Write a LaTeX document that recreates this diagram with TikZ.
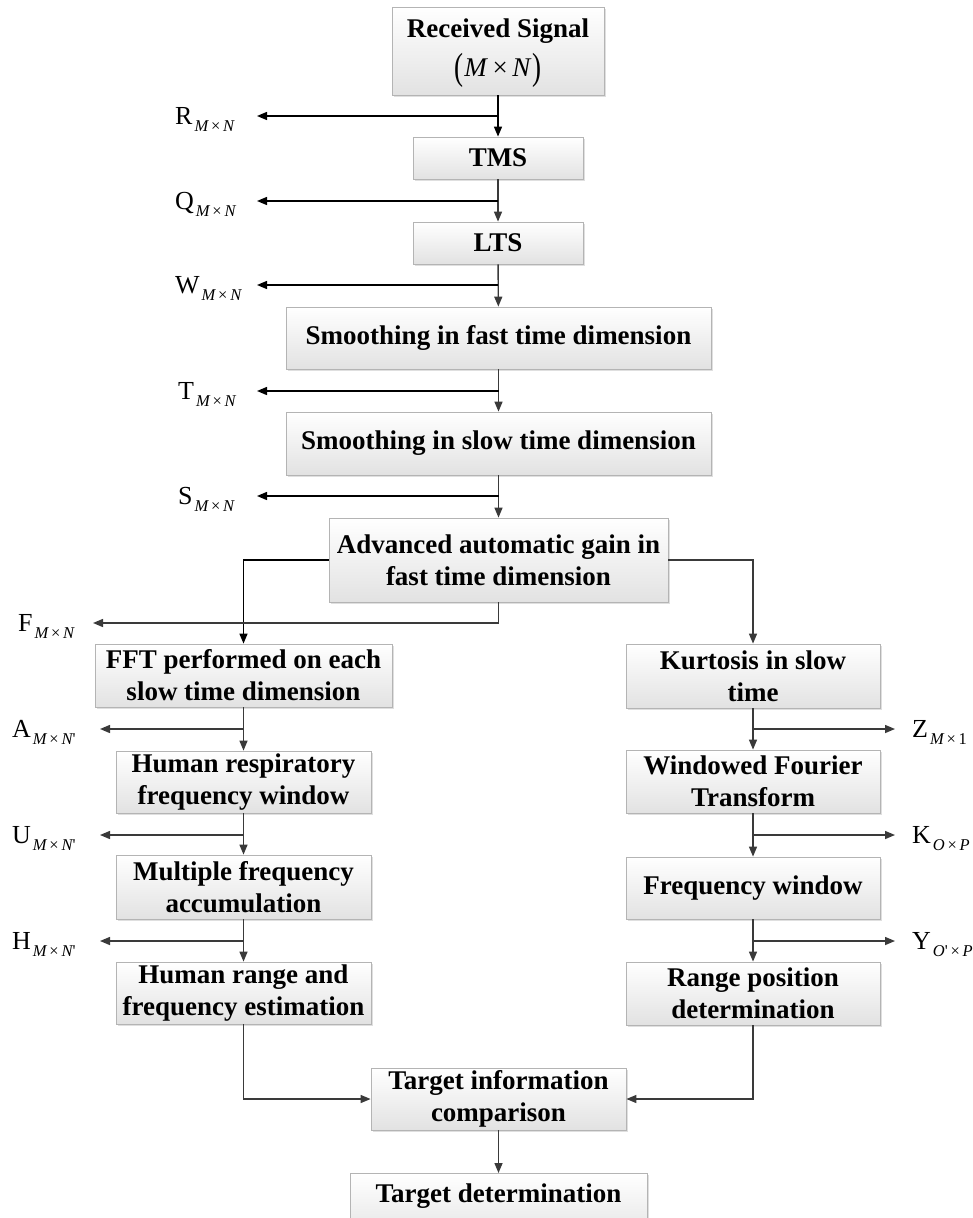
\documentclass[tikz,border=0pt]{standalone}
\usepackage{fontspec}
\setmainfont{Liberation Serif}
\usetikzlibrary{arrows.meta,shadows}
\definecolor{boxborder}{HTML}{B4B4B4}
\definecolor{boxbottom}{HTML}{E2E2E2}
\definecolor{linegray}{HTML}{3A3A3A}
\newcommand{\lab}[2]{{\fontsize{26}{28}\selectfont #1}\kern2pt\raisebox{-7pt}{\fontsize{16.5}{18}\selectfont\itshape #2}}
\newcommand{\mx}{{\upshape\,×\,}}
\newcommand{\pr}{{\upshape\textquotesingle}}
\begin{document}
\begin{tikzpicture}[x=1pt,y=-1pt,
  pbox/.style={draw=boxborder, line width=0.8pt, top color=white, bottom color=boxbottom,
    drop shadow={shadow xshift=1.5pt, shadow yshift=-1.5pt, opacity=0.25, fill=gray},
    inner sep=0pt, align=center, text=black,
    font=\bfseries\fontsize{27}{32}\selectfont},
  arr/.style={draw=linegray, line width=1.4pt, -{Triangle[length=10pt,width=8pt]}},
  arrk/.style={arr, draw=black},
  lbl/.style={inner sep=0pt, anchor=base west}
]
\useasboundingbox (0,0) rectangle (973,1218);
\clip (0,0) rectangle (973,1218);
\fill[white] (0,0) rectangle (973,1218);
\newcommand{\bx}[6]{\node[pbox, minimum width={#4-#2}, minimum height={#5-#3}] (#1) at ({(#2+#4)/2},{(#3+#5)/2}) {#6};}
\bx{rs}{392}{7}{604}{95}{\raisebox{-6pt}{\begin{tabular}{@{}c@{}}Received Signal\\[6pt]{\mdseries\fontsize{27}{30}\selectfont\raisebox{-2.5pt}{\scalebox{1}[1.4]{(}}\kern1pt\textit{M}\,×\,\textit{N}\kern1pt\raisebox{-2.5pt}{\scalebox{1}[1.4]{)}}}\end{tabular}}}
\bx{tms}{413}{137}{583}{179}{TMS}
\bx{lts}{413}{222}{583}{264}{LTS}
\bx{sf}{286}{307}{711}{369}{Smoothing in fast time dimension}
\bx{ss}{286}{412}{711}{475}{Smoothing in slow time dimension}
\bx{adv}{329}{518}{668}{602}{Advanced automatic gain in\\fast time dimension}
\bx{fft}{95}{644}{392}{707}{FFT performed on each\\slow time dimension}
\bx{hr}{116}{751}{371}{813}{Human respiratory\\frequency window}
\bx{mf}{116}{855}{371}{919}{Multiple frequency\\accumulation}
\bx{hre}{116}{962}{371}{1024}{Human range and\\frequency estimation}
\bx{ku}{626}{644}{880}{708}{Kurtosis in slow\\time}
\bx{wf}{626}{750}{880}{813}{Windowed Fourier\\Transform}
\bx{fw}{626}{857}{880}{919}{Frequency window}
\bx{rp}{626}{962}{880}{1025}{Range position\\determination}
\bx{tic}{371}{1068}{626}{1130}{Target information\\comparison}
\node[pbox, minimum width=297, minimum height=70, anchor=north] (td) at (498.5,1173) {};
\node[inner sep=0pt, font=\bfseries\fontsize{27}{32}\selectfont] (tdt) at (498.5,1196) {Target determination};

% label tips
\coordinate (rT) at (257,116);
\coordinate (qT) at (257,201);
\coordinate (wT) at (257,285);
\coordinate (tT) at (257,391);
\coordinate (sT) at (257,496);
\coordinate (fT) at (93,623);
\coordinate (aT) at (100,729);
\coordinate (uT) at (100,835);
\coordinate (hT) at (100,941);
\coordinate (zT) at (895,729);
\coordinate (kT) at (895,835);
\coordinate (yT) at (895,941);

% main trunk
\draw[arrk] (rs) -- (tms);
\draw[arr] (tms) -- (lts);
\draw[arr] (lts) -- (sf);
\draw[arr] (sf) -- (ss);
\draw[arr] (ss) -- (adv);
\draw[arrk] (rs.south |- rT) -- (rT);
\draw[arrk] (tms.south |- qT) -- (qT);
\draw[arrk] (lts.south |- wT) -- (wT);
\draw[arrk] (sf.south |- tT) -- (tT);
\draw[arrk] (ss.south |- sT) -- (sT);

% branches
\draw[arrk] (adv.west) -| (fft.north);
\draw[arr] (adv.east) -| (ku.north);
\draw[arr] (adv.south) |- (fT);

% left column
\draw[arr] (fft) -- (hr);
\draw[arr] (hr) -- (mf);
\draw[arr] (mf) -- (hre);
\draw[arr] (fft.south |- aT) -- (aT);
\draw[arr] (hr.south |- uT) -- (uT);
\draw[arr] (mf.south |- hT) -- (hT);

% right column
\draw[arr] (ku) -- (wf);
\draw[arr] (wf) -- (fw);
\draw[arr] (fw) -- (rp);
\draw[arr] (ku.south |- zT) -- (zT);
\draw[arr] (wf.south |- kT) -- (kT);
\draw[arr] (fw.south |- yT) -- (yT);

% merge
\draw[arr] (hre.south) |- (tic.west);
\draw[arr] (rp.south) |- (tic.east);
\draw[arr] (tic) -- (td);

% labels
\node[lbl] (lR) at (175,124) {\lab{R}{M\mx N}};
\node[lbl] (lQ) at (175,209) {\lab{Q}{M\mx N}};
\node[lbl] (lW) at (175,293) {\lab{W}{M\mx N}};
\node[lbl] (lT) at (178,399) {\lab{T}{M\mx N}};
\node[lbl] (lS) at (178,504) {\lab{S}{M\mx N}};
\node[lbl] (lF) at (18,631) {\lab{F}{M\mx N}};
\node[lbl] (lA) at (12,737) {\lab{A}{M\mx N\pr}};
\node[lbl] (lU) at (12,843) {\lab{U}{M\mx N\pr}};
\node[lbl] (lH) at (12,949) {\lab{H}{M\mx N\pr}};
\node[lbl] (lZ) at (912,737) {\lab{Z}{M\mx\upshape 1}};
\node[lbl] (lK) at (912,843) {\lab{K}{O\mx P}};
\node[lbl] (lY) at (912,949) {\lab{Y}{O\pr\mx P}};
\end{tikzpicture}
\end{document}
